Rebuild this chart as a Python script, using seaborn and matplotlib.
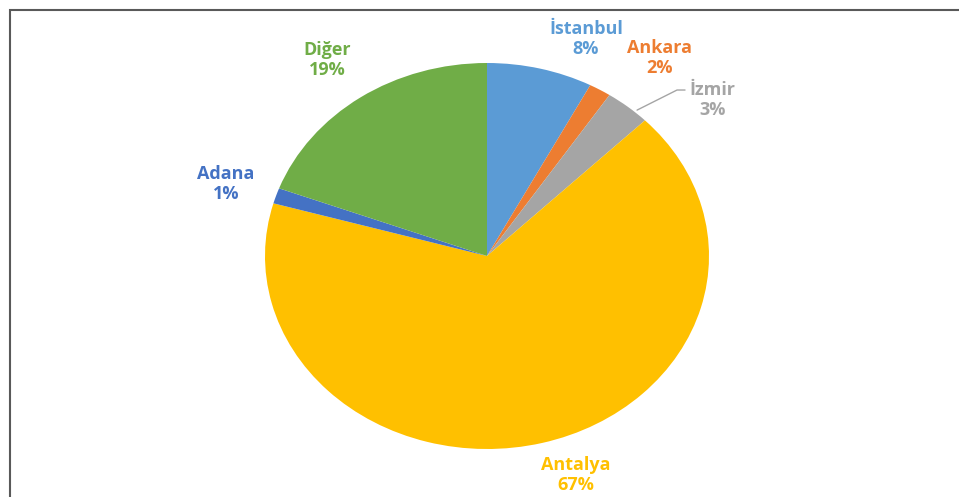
import matplotlib
matplotlib.use("Agg")
import matplotlib.pyplot as plt
import seaborn as sns
from matplotlib.patches import Rectangle

# data (clockwise from 12 o'clock)
cities = ["İstanbul", "Ankara", "İzmir", "Antalya", "Adana", "Diğer"]
shares = [7.7, 1.6, 3.3, 66.8, 1.3, 19.3]
pct_labels = ["8%", "2%", "3%", "67%", "1%", "19%"]
slice_colors = ["#5B9BD5", "#ED7D31", "#A5A5A5", "#FFC000", "#4472C4", "#70AD47"]

# where each label sits, in pie units (radius = 1)
label_pos = [(0.446, 1.124), (0.775, 1.026), (1.018, 0.808),
             (0.401, -1.135), (-1.176, 0.373), (-0.721, 1.016)]

sns.set_theme(style="white")
plt.rcParams["font.family"] = ["Open Sans", "DejaVu Sans"]
palette = sns.color_palette(slice_colors)

fig = plt.figure(figsize=(9.59, 4.97), dpi=100)
# pie is drawn slightly squashed in the original, so use a non-square axes
ax = fig.add_axes([265 / 959, 48 / 497, 444 / 959, 386 / 497])

ax.pie(shares, colors=palette, startangle=90, counterclock=False,
       radius=1.0, wedgeprops=dict(linewidth=0))
ax.set_aspect("auto")
ax.set_xlim(-1, 1)
ax.set_ylim(-1, 1)
ax.axis("off")

for name, pct, col, (x, y) in zip(cities, pct_labels, slice_colors, label_pos):
    ax.text(x, y, f"{name}\n{pct}", color=col, fontsize=13, fontweight="bold",
            ha="center", va="center", linespacing=1.2, clip_on=False)

# leader line for İzmir
ax.plot([0.676, 0.856, 0.892], [0.756, 0.860, 0.860], color="#A5A5A5",
        lw=1.0, clip_on=False)

# outer frame (only top and left edges visible in the crop)
fig.add_artist(Rectangle((10 / 959, -0.1), 1.0, (497 - 10) / 497 + 0.1,
                         transform=fig.transFigure, fill=False,
                         edgecolor="#595959", linewidth=1.5))

fig.savefig("out.png", dpi=100)
